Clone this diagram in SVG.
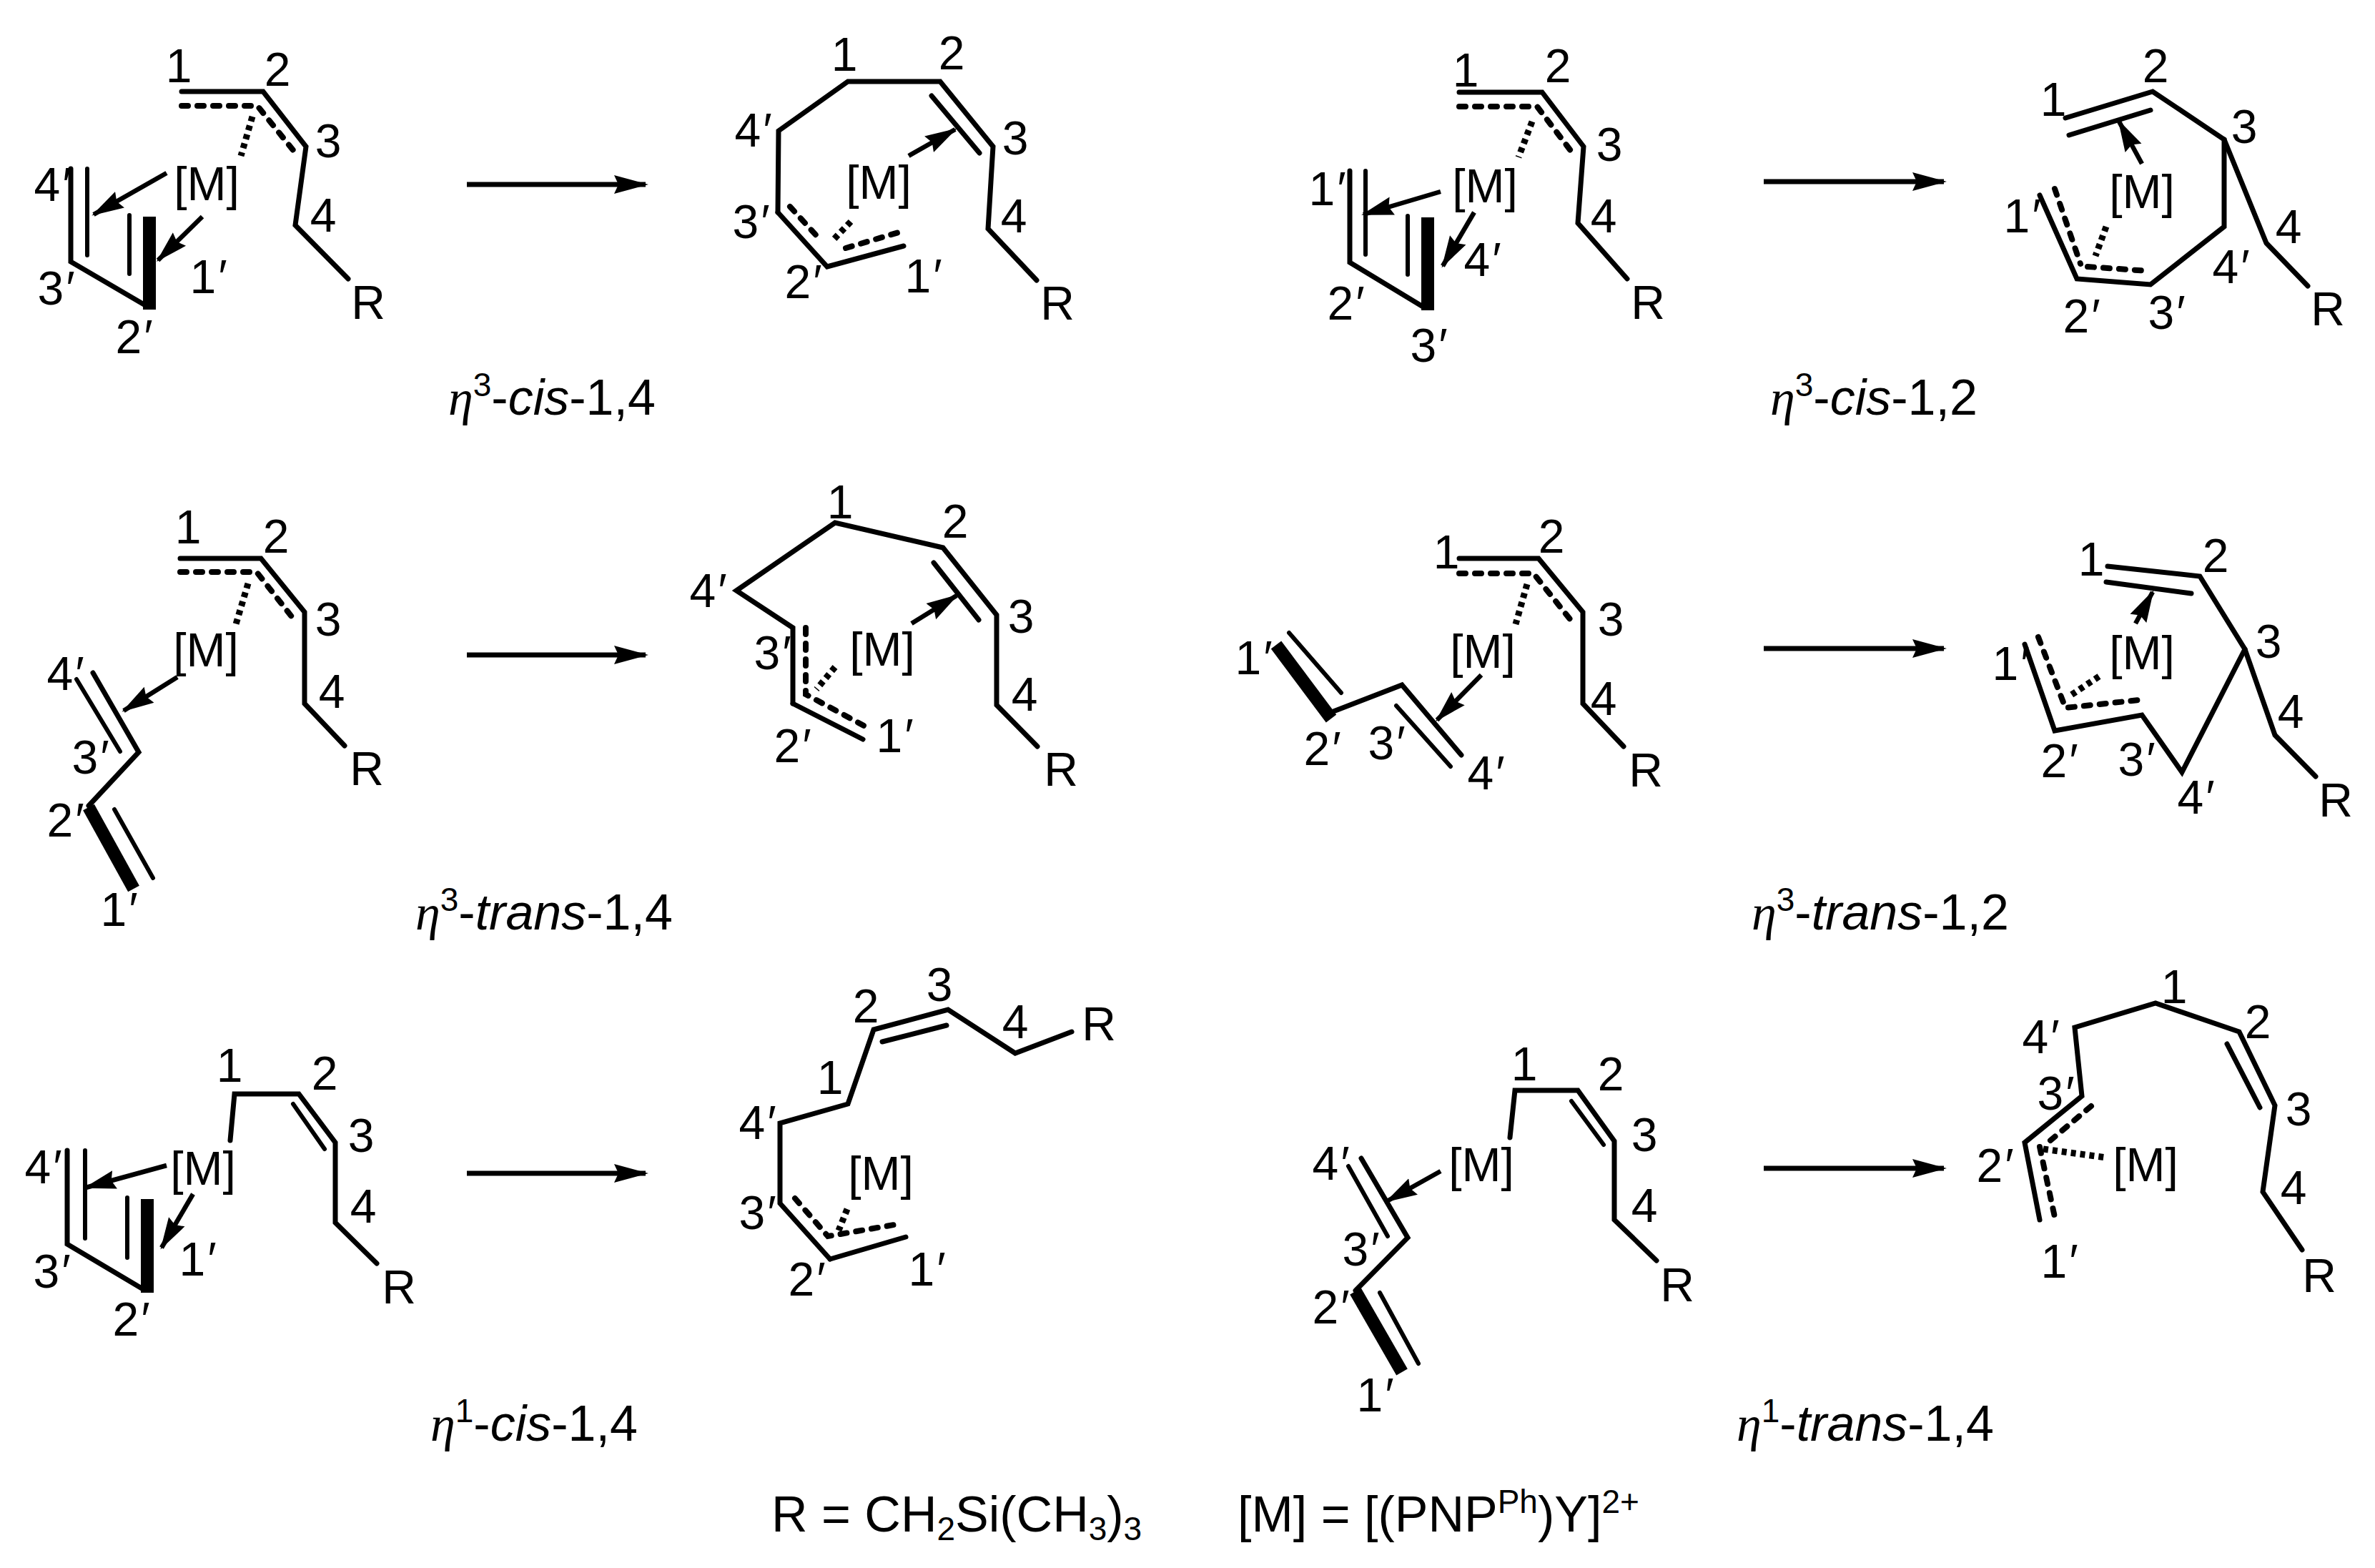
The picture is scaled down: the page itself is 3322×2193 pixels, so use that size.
<svg xmlns="http://www.w3.org/2000/svg" width="3322" height="2193" viewBox="0 0 3322 2193">
<style>
text{font-family:"Liberation Sans",Arial,sans-serif;font-size:66px;fill:#000;text-anchor:middle}
.c{font-size:70px;text-anchor:start}
.f{font-size:70px;text-anchor:start}
.g{font-family:"Liberation Serif","Times New Roman",serif;font-style:italic}
.i,.p{font-style:italic}
path{fill:none;stroke:#000;stroke-linejoin:miter;stroke-linecap:round}
.b{stroke-width:7}
.t{stroke-width:6}
.w{stroke-width:18;stroke-linecap:butt}
.d{stroke-width:8;stroke-dasharray:9 13}
.h{stroke-width:9;stroke-dasharray:7 6;stroke-linecap:butt}
.a{stroke-width:6.5;stroke-linecap:butt;marker-end:url(#ah)}
.r{stroke-width:7;stroke-linecap:butt;marker-end:url(#rh)}
marker path{fill:#000;stroke:none}
</style>
<defs>
<marker id="ah" markerUnits="userSpaceOnUse" markerWidth="48" markerHeight="30" refX="42" refY="15" orient="auto"><path d="M45,15 L0,2 L5,15 L0,28 Z"/></marker>
<marker id="rh" markerUnits="userSpaceOnUse" markerWidth="50" markerHeight="32" refX="44" refY="16" orient="auto"><path d="M48,16 L0,3 L6,16 L0,29 Z"/></marker>
</defs>
<rect width="3322" height="2193" fill="#fff"/>

<g id="connectors">
<path class="r" d="M653,258H903"/>
<path class="r" d="M2467,254H2719"/>
<path class="r" d="M653,916H903"/>
<path class="r" d="M2467,907H2719"/>
<path class="r" d="M653,1641H903"/>
<path class="r" d="M2467,1634H2719"/>
</g>

<g id="s1-reactant">
<path class="b" d="M254,128H368L428,205L413,315L487,390"/>
<path class="d" d="M254,148H360L410,210"/>
<path class="h" d="M353,163L337,218"/>
<path class="b" d="M99,236V366L205,428"/>
<path class="t" d="M122,236V357M181,301V383"/>
<path class="w" d="M209,303V433"/>
<path class="a" d="M233,242L131,300"/>
<path class="a" d="M283,303L221,364"/>
<text x="289" y="280">[M]</text>
<text x="250" y="115">1</text><text x="388" y="120">2</text><text x="459" y="220">3</text><text x="452" y="324">4</text><text x="515" y="446">R</text>
<text x="72" y="281">4<tspan class="p">′</tspan></text><text x="77" y="426">3<tspan class="p">′</tspan></text><text x="186" y="494">2<tspan class="p">′</tspan></text><text x="290" y="410">1<tspan class="p">′</tspan></text>
</g>
<g id="s1-product">
<path class="b" d="M1088,297L1089,183L1186,114H1315L1389,205L1382,320L1450,392"/>
<path class="b" d="M1088,297L1157,373L1264,344"/>
<path class="b" d="M1303,134L1370,214"/>
<path class="d" d="M1105,289L1147,335M1183,347L1257,325"/>
<path class="h" d="M1190,310L1163,338"/>
<path class="a" d="M1271,218L1336,181"/>
<text x="1229" y="278">[M]</text>
<text x="1181" y="99">1</text><text x="1331" y="97">2</text><text x="1420" y="216">3</text><text x="1418" y="325">4</text><text x="1479" y="447">R</text>
<text x="1052" y="205">4<tspan class="p">′</tspan></text><text x="1049" y="333">3<tspan class="p">′</tspan></text><text x="1122" y="417">2<tspan class="p">′</tspan></text><text x="1290" y="409">1<tspan class="p">′</tspan></text>
</g>
<text id="cap1" class="c" x="627" y="580"><tspan class="g">η</tspan><tspan font-size="46" dy="-26">3</tspan><tspan dy="26">-</tspan><tspan class="i">cis</tspan>-1,4</text>

<g id="s2-reactant">
<path class="b" d="M2041,129H2157L2215,205L2207,312L2276,390"/>
<path class="d" d="M2041,149H2150L2198,212"/>
<path class="h" d="M2143,170L2124,220"/>
<path class="b" d="M1888,239V367L1992,430"/>
<path class="t" d="M1910,239V356M1969,302V384"/>
<path class="w" d="M1997,304V434"/>
<path class="a" d="M2015,268L1907,300"/>
<path class="a" d="M2062,297L2018,372"/>
<text x="2077" y="283">[M]</text>
<text x="2050" y="121">1</text><text x="2179" y="115">2</text><text x="2251" y="225">3</text><text x="2243" y="325">4</text><text x="2305" y="446">R</text>
<text x="1855" y="287">1<tspan class="p">′</tspan></text><text x="2072" y="386">4<tspan class="p">′</tspan></text><text x="1881" y="447">2<tspan class="p">′</tspan></text><text x="1997" y="506">3<tspan class="p">′</tspan></text>
</g>
<g id="s2-product">
<path class="b" d="M2889,165L3011,128L3111,195V317L3008,398L2905,390L2853,273"/>
<path class="b" d="M3111,195L3170,340L3228,400"/>
<path class="b" d="M2894,189L3008,154"/>
<path class="d" d="M2874,264L2910,369M2920,373L3005,379"/>
<path class="h" d="M2946,317L2931,358"/>
<path class="a" d="M2996,229L2964,170"/>
<text x="2996" y="291">[M]</text>
<text x="2872" y="162">1</text><text x="3015" y="115">2</text><text x="3139" y="200">3</text><text x="3201" y="340">4</text><text x="3256" y="455">R</text>
<text x="3119" y="396">4<tspan class="p">′</tspan></text><text x="3029" y="460">3<tspan class="p">′</tspan></text><text x="2910" y="465">2<tspan class="p">′</tspan></text><text x="2827" y="325">1<tspan class="p">′</tspan></text>
</g>
<text id="cap2" class="c" x="2476" y="580"><tspan class="g">η</tspan><tspan font-size="46" dy="-26">3</tspan><tspan dy="26">-</tspan><tspan class="i">cis</tspan>-1,2</text>

<g id="s3-reactant">
<path class="b" d="M252,781H365L426,856V984L482,1043"/>
<path class="d" d="M252,800H359L410,865"/>
<path class="h" d="M347,816L330,873"/>
<path class="b" d="M130,941L194,1052L124,1127"/>
<path class="t" d="M107,950L168,1051M160,1132L214,1228"/>
<path class="w" d="M124,1129L187,1243"/>
<path class="a" d="M248,947L173,994"/>
<text x="288" y="932">[M]</text>
<text x="263" y="760">1</text><text x="386" y="773">2</text><text x="459" y="889">3</text><text x="464" y="990">4</text><text x="513" y="1098">R</text>
<text x="90" y="965">4<tspan class="p">′</tspan></text><text x="125" y="1082">3<tspan class="p">′</tspan></text><text x="90" y="1170">2<tspan class="p">′</tspan></text><text x="165" y="1295">1<tspan class="p">′</tspan></text>
</g>
<g id="s3-product">
<path class="b" d="M1109,984V878L1030,826L1168,731L1319,766L1394,860V986L1451,1044"/>
<path class="b" d="M1109,984L1207,1034"/>
<path class="b" d="M1306,787L1369,867"/>
<path class="d" d="M1127,878V971L1214,1018"/>
<path class="h" d="M1168,933L1142,964"/>
<path class="a" d="M1275,872L1338,833"/>
<text x="1234" y="931">[M]</text>
<text x="1175" y="725">1</text><text x="1336" y="752">2</text><text x="1428" y="885">3</text><text x="1433" y="994">4</text><text x="1484" y="1099">R</text>
<text x="989" y="849">4<tspan class="p">′</tspan></text><text x="1079" y="936">3<tspan class="p">′</tspan></text><text x="1107" y="1066">2<tspan class="p">′</tspan></text><text x="1250" y="1052">1<tspan class="p">′</tspan></text>
</g>
<text id="cap3" class="c" x="581" y="1300"><tspan class="g">η</tspan><tspan font-size="46" dy="-26">3</tspan><tspan dy="26">-</tspan><tspan class="i">trans</tspan>-1,4</text>

<g id="s4-reactant">
<path class="b" d="M2041,781H2152L2214,856V984L2271,1044"/>
<path class="d" d="M2041,802H2145L2196,866"/>
<path class="h" d="M2136,817L2120,873"/>
<path class="w" d="M1785,902L1862,1005"/>
<path class="t" d="M1803,885L1876,969M1953,987L2029,1072"/>
<path class="b" d="M1865,995L1961,958L2044,1056"/>
<path class="a" d="M2072,944L2010,1007"/>
<text x="2074" y="934">[M]</text>
<text x="2023" y="795">1</text><text x="2170" y="773">2</text><text x="2253" y="889">3</text><text x="2243" y="1000">4</text><text x="2302" y="1100">R</text>
<text x="1752" y="943">1<tspan class="p">′</tspan></text><text x="1848" y="1070">2<tspan class="p">′</tspan></text><text x="1938" y="1062">3<tspan class="p">′</tspan></text><text x="2077" y="1104">4<tspan class="p">′</tspan></text>
</g>
<g id="s4-product">
<path class="b" d="M2948,792L3077,806L3140,908L3052,1080L2996,1000L2874,1022L2832,901"/>
<path class="b" d="M3140,908L3182,1028L3239,1086"/>
<path class="b" d="M2946,814L3065,830"/>
<path class="d" d="M2851,891L2889,990L2992,979"/>
<path class="h" d="M2936,946L2894,974"/>
<path class="a" d="M2987,872L3011,828"/>
<text x="2996" y="936">[M]</text>
<text x="2925" y="805">1</text><text x="3099" y="800">2</text><text x="3173" y="920">3</text><text x="3204" y="1018">4</text><text x="3267" y="1142">R</text>
<text x="3070" y="1138">4<tspan class="p">′</tspan></text><text x="2987" y="1085">3<tspan class="p">′</tspan></text><text x="2879" y="1087">2<tspan class="p">′</tspan></text><text x="2811" y="951">1<tspan class="p">′</tspan></text>
</g>
<text id="cap4" class="c" x="2450" y="1300"><tspan class="g">η</tspan><tspan font-size="46" dy="-26">3</tspan><tspan dy="26">-</tspan><tspan class="i">trans</tspan>-1,2</text>

<g id="s5-reactant">
<path class="b" d="M322,1595L328,1530H418L469,1598V1710L527,1767"/>
<path class="t" d="M410,1544L454,1607M119,1609V1732M178,1675V1759"/>
<path class="b" d="M94,1609V1740L200,1803"/>
<path class="w" d="M206,1677V1808"/>
<path class="a" d="M233,1630L120,1661"/>
<path class="a" d="M270,1670L226,1745"/>
<text x="284" y="1657">[M]</text>
<text x="321" y="1513">1</text><text x="454" y="1524">2</text><text x="505" y="1611">3</text><text x="508" y="1710">4</text><text x="558" y="1823">R</text>
<text x="59" y="1655">4<tspan class="p">′</tspan></text><text x="71" y="1801">3<tspan class="p">′</tspan></text><text x="275" y="1784">1<tspan class="p">′</tspan></text><text x="182" y="1868">2<tspan class="p">′</tspan></text>
</g>
<g id="s5-product">
<path class="b" d="M1161,1761L1091,1683V1571L1186,1544L1222,1440L1326,1412L1420,1473L1499,1443"/>
<path class="b" d="M1161,1761L1267,1730"/>
<path class="b" d="M1234,1457L1324,1434"/>
<path class="d" d="M1112,1676L1158,1729L1262,1711"/>
<path class="h" d="M1185,1691L1173,1721"/>
<text x="1232" y="1664">[M]</text>
<text x="1161" y="1530">1</text><text x="1211" y="1430">2</text><text x="1314" y="1400">3</text><text x="1420" y="1452">4</text><text x="1537" y="1455">R</text>
<text x="1058" y="1593">4<tspan class="p">′</tspan></text><text x="1058" y="1719">3<tspan class="p">′</tspan></text><text x="1127" y="1812">2<tspan class="p">′</tspan></text><text x="1295" y="1798">1<tspan class="p">′</tspan></text>
</g>
<text id="cap5" class="c" x="602" y="2015"><tspan class="g">η</tspan><tspan font-size="46" dy="-26">1</tspan><tspan dy="26">-</tspan><tspan class="i">cis</tspan>-1,4</text>

<g id="s6-reactant">
<path class="b" d="M2112,1591L2119,1525H2207L2258,1596V1706L2317,1763"/>
<path class="t" d="M2198,1540L2243,1601M1886,1631L1941,1729M1930,1808L1984,1907"/>
<path class="b" d="M1904,1620L1969,1731L1896,1805"/>
<path class="w" d="M1896,1806L1961,1919"/>
<path class="a" d="M2015,1638L1940,1680"/>
<text x="2072" y="1652">[M]</text>
<text x="2132" y="1511">1</text><text x="2253" y="1525">2</text><text x="2300" y="1610">3</text><text x="2300" y="1709">4</text><text x="2346" y="1820">R</text>
<text x="1860" y="1650">4<tspan class="p">′</tspan></text><text x="1902" y="1770">3<tspan class="p">′</tspan></text><text x="1860" y="1851">2<tspan class="p">′</tspan></text><text x="1922" y="1974">1<tspan class="p">′</tspan></text>
</g>
<g id="s6-product">
<path class="b" d="M2853,1706L2832,1598L2912,1533L2902,1437L3015,1403L3132,1443L3182,1546L3165,1667L3220,1748"/>
<path class="b" d="M3115,1460L3161,1549"/>
<path class="d" d="M2925,1547L2868,1595M2853,1604L2874,1702"/>
<path class="h" d="M2858,1607L2946,1619"/>
<text x="3001" y="1652">[M]</text>
<text x="3041" y="1403">1</text><text x="3158" y="1452">2</text><text x="3215" y="1574">3</text><text x="3208" y="1684">4</text><text x="3244" y="1807">R</text>
<text x="2853" y="1473">4<tspan class="p">′</tspan></text><text x="2874" y="1552">3<tspan class="p">′</tspan></text><text x="2789" y="1653">2<tspan class="p">′</tspan></text><text x="2879" y="1787">1<tspan class="p">′</tspan></text>
</g>
<text id="cap6" class="c" x="2429" y="2015"><tspan class="g">η</tspan><tspan font-size="46" dy="-26">1</tspan><tspan dy="26">-</tspan><tspan class="i">trans</tspan>-1,4</text>

<text id="def-r" class="f" x="1079" y="2142">R = CH<tspan font-size="46" dy="12">2</tspan><tspan dy="-12">Si(CH</tspan><tspan font-size="46" dy="12">3</tspan><tspan dy="-12">)</tspan><tspan font-size="46" dy="12">3</tspan></text>
<text id="def-m" class="f" x="1731" y="2142">[M] = [(PNP<tspan font-size="46" dy="-26">Ph</tspan><tspan dy="26">)Y]</tspan><tspan font-size="46" dy="-26">2+</tspan></text>
</svg>
